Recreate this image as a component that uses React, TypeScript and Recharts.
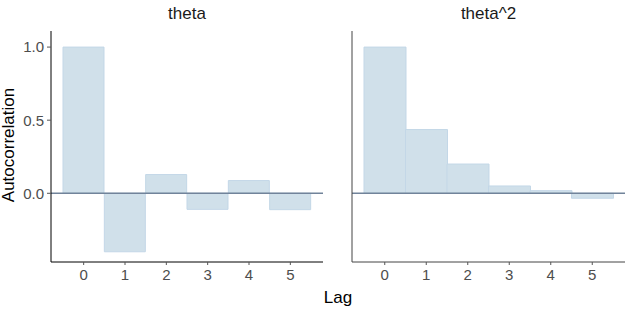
import React from "react";
import {
  BarChart,
  Bar,
  XAxis,
  YAxis,
  ReferenceLine,
} from "recharts";

const lags = [0, 1, 2, 3, 4, 5];
const thetaAcf = [1.0, -0.4, 0.128, -0.11, 0.087, -0.112];
const thetaSqAcf = [1.0, 0.436, 0.2, 0.05, 0.018, -0.034];
const yTicks = [0, 0.5, 1];
const panelTitles = ["theta", "theta^2"];

const FONT = "'Liberation Sans', Arial, Helvetica, sans-serif";
const BAR_FILL = "#d0e0ea";
const BAR_STROKE = "#c3d7e7";
const ZERO_LINE = "#71839a";
const TICK_COLOR = "#4d4d4d";

const toRows = (values: number[]) =>
  lags.map((lag, i) => ({ lag: String(lag), value: values[i] }));

type PanelProps = {
  values: number[];
  width: number;
  yWidth: number;
  showYTicks: boolean;
  axisColor: string;
};

const Panel = ({ values, width, yWidth, showYTicks, axisColor }: PanelProps) => (
  <BarChart
    width={width}
    height={310}
    data={toRows(values)}
    margin={{ top: 31, right: width === 330 ? 7 : 1, bottom: 28, left: 0 }}
    barCategoryGap={0}
  >
    <XAxis
      dataKey="lag"
      height={20}
      padding={{ left: 12, right: 12 }}
      axisLine={{ stroke: axisColor, strokeWidth: 1 }}
      tickLine={{ stroke: "#555" }}
      tickSize={3}
      tickMargin={4}
      tick={{ fill: TICK_COLOR, fontSize: 15, fontFamily: FONT }}
    />
    <YAxis
      width={yWidth}
      domain={[-0.47, 1.11]}
      ticks={yTicks}
      allowDataOverflow
      tickFormatter={(v: number) => v.toFixed(1)}
      axisLine={{ stroke: axisColor, strokeWidth: 1 }}
      tickLine={showYTicks ? { stroke: "#555" } : false}
      tickSize={4}
      tickMargin={3}
      tick={showYTicks ? { fill: TICK_COLOR, fontSize: 15, fontFamily: FONT } : false}
    />
    <Bar
      dataKey="value"
      fill={BAR_FILL}
      stroke={BAR_STROKE}
      strokeWidth={1}
      isAnimationActive={false}
    />
    <ReferenceLine y={0} stroke={ZERO_LINE} strokeWidth={1.5} />
  </BarChart>
);

const titleStyle: React.CSSProperties = {
  position: "absolute",
  top: 4,
  fontSize: 17,
  fontFamily: FONT,
  color: "#1a1a1a",
  textAlign: "center",
  lineHeight: "20px",
};

export default function App() {
  return (
    <div
      style={{
        position: "absolute",
        left: 0,
        top: 0,
        width: 626,
        height: 310,
        background: "#fff",
        fontFamily: FONT,
      }}
    >
      <div style={{ position: "absolute", left: 0, top: 0 }}>
        <Panel values={thetaAcf} width={330} yWidth={51} showYTicks axisColor="#000" />
      </div>
      <div style={{ position: "absolute", left: 330, top: 0 }}>
        <Panel values={thetaSqAcf} width={296} yWidth={22} showYTicks={false} axisColor="#444" />
      </div>
      <div style={{ ...titleStyle, left: 51, width: 272 }}>{panelTitles[0]}</div>
      <div style={{ ...titleStyle, left: 352, width: 273 }}>{panelTitles[1]}</div>
      <div
        style={{
          position: "absolute",
          left: 9,
          top: 145,
          transform: "translate(-50%, -50%) rotate(-90deg)",
          fontSize: 17,
          color: "#000",
          whiteSpace: "nowrap",
          lineHeight: "18px",
        }}
      >
        Autocorrelation
      </div>
      <div
        style={{
          position: "absolute",
          left: 338,
          top: 298,
          transform: "translate(-50%, -50%)",
          fontSize: 17,
          color: "#000",
          whiteSpace: "nowrap",
          lineHeight: "20px",
        }}
      >
        Lag
      </div>
    </div>
  );
}
